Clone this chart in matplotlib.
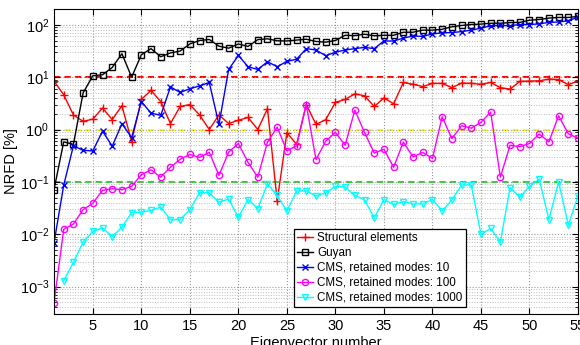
import matplotlib
matplotlib.use("Agg")
import matplotlib.pyplot as plt
import numpy as np

plt.rcParams["font.family"] = ["Liberation Sans", "DejaVu Sans"]

eigvec = np.arange(1, 56)

structural = [8.4, 4.6, 1.9, 1.43, 1.58, 2.57, 1.55, 2.85, 0.59, 3.75,
              5.6, 3.4, 1.3, 2.75, 3.0, 1.9, 1.0, 1.9, 1.3, 1.5,
              1.7, 1.0, 2.5, 0.043, 0.87, 0.52, 3.0, 1.25, 1.54, 3.3,
              3.75, 4.8, 4.4, 2.75, 4.0, 3.1, 7.9, 7.3, 6.6, 7.6,
              7.6, 6.3, 7.7, 7.6, 7.3, 7.9, 6.3, 5.9, 8.3, 8.4,
              8.5, 9.2, 9.0, 7.2, 8.4]

guyan = [0.071, 0.58, 0.52, 5.0, 10.6, 11.1, 15.3, 28, 10, 26.7,
         35, 24.5, 29, 31.5, 43, 50, 52.4, 39, 35.7, 43,
         38.5, 52, 54, 49.4, 49, 51, 53, 48, 46.5, 50,
         63, 62, 66, 61.5, 63, 63, 72, 72, 79, 79,
         82, 91.5, 97, 101, 103, 107, 107, 110, 111, 122,
         126, 134, 138, 138, 144]

cms10 = [0.0068, 0.086, 0.49, 0.40, 0.39, 0.93, 0.48, 1.29, 0.70, 3.4,
         2.06, 1.86, 6.5, 5.1, 6.0, 6.8, 7.9, 1.25, 14, 26,
         15.8, 14, 19.7, 15.8, 20, 22, 35, 33, 25.6, 30,
         33, 35, 37, 35, 49, 49, 55.6, 61, 60, 67,
         70, 71, 74, 79, 86, 96, 97, 96, 101, 101,
         104, 111, 113, 119, 140]

cms100 = [0.00049, 0.0124, 0.0157, 0.0295, 0.039, 0.069, 0.074, 0.071, 0.082, 0.137,
          0.17, 0.123, 0.19, 0.27, 0.335, 0.293, 0.366, 0.133, 0.37, 0.54,
          0.235, 0.123, 0.575, 1.11, 0.39, 0.49, 3.0, 0.265, 0.6, 0.88,
          0.5, 2.34, 0.88, 0.355, 0.42, 0.19, 0.575, 0.30, 0.366, 0.28,
          1.75, 0.67, 1.18, 1.06, 1.37, 2.15, 0.123, 0.5, 0.47, 0.54,
          0.82, 0.58, 1.83, 0.83, 0.68]

cms1000 = [np.nan, 0.0013, 0.0029, 0.0071, 0.0114, 0.0132, 0.009, 0.0137, 0.0258, 0.0265,
           0.0286, 0.033, 0.019, 0.019, 0.0295, 0.062, 0.062, 0.041, 0.047, 0.021,
           0.046, 0.031, 0.092, 0.055, 0.0277, 0.067, 0.067, 0.054, 0.062, 0.082,
           0.08, 0.055, 0.046, 0.0204, 0.046, 0.037, 0.042, 0.038, 0.038, 0.046,
           0.028, 0.045, 0.087, 0.087, 0.01, 0.0129, 0.0071, 0.078, 0.051, 0.082,
           0.113, 0.019, 0.1, 0.015, 0.054]

thresholds = [10, 1, 0.1]
threshold_colors = ["red", "yellow", "#22dd22"]
xticks = [5, 10, 15, 20, 25, 30, 35, 40, 45, 50, 55]

fig = plt.figure(figsize=(5.8, 3.45), dpi=100)
ax = fig.add_axes([54 / 580, 31 / 345, 524 / 580, 305 / 345])

for th, c in zip(thresholds, threshold_colors):
    ax.axhline(th, color=c, ls="--", lw=1.5, dashes=(3, 2), zorder=1)

ms = 4.5
ax.plot(eigvec, structural, "-+", color="red", lw=1, ms=6, mew=1, label="Structural elements")
ax.plot(eigvec, guyan, "-s", color="black", lw=1, ms=ms - 0.5, mfc="none", mew=1, label="Guyan")
ax.plot(eigvec, cms10, "-x", color="blue", lw=1, ms=ms - 0.5, mew=1, label="CMS, retained modes: 10")
ax.plot(eigvec, cms100, "-o", color="magenta", lw=1, ms=ms, mfc="none", mew=1, label="CMS, retained modes: 100")
ax.plot(eigvec, cms1000, "-v", color="cyan", lw=1, ms=ms, mfc="none", mew=1, label="CMS, retained modes: 1000")

ax.set_yscale("log")
ax.set_xlim(1, 55)
ax.set_ylim(3e-4, 2e2)
ax.set_xticks(xticks)
ax.tick_params(which="both", direction="in", top=True, right=True, labelsize=10.5)
ax.tick_params(which="major", length=4)
ax.tick_params(which="minor", length=2)
ax.grid(True, which="major", ls=":", color="#999999", lw=0.8)
ax.grid(True, which="minor", axis="y", ls=":", color="#bbbbbb", lw=0.7)

ax.set_xlabel("Eigenvector number", fontsize=10.5, labelpad=2)
ax.set_ylabel("NRFD [%]", fontsize=10.5, labelpad=1)

leg = ax.legend(loc="lower right", bbox_to_anchor=(0.786, 0.022), fontsize=8.4,
                fancybox=False, framealpha=1, edgecolor="black",
                borderpad=0.3, labelspacing=0.25, handlelength=1.35,
                handletextpad=0.35, borderaxespad=0)
leg.get_frame().set_linewidth(0.9)

fig.savefig("out.png", dpi=100)
